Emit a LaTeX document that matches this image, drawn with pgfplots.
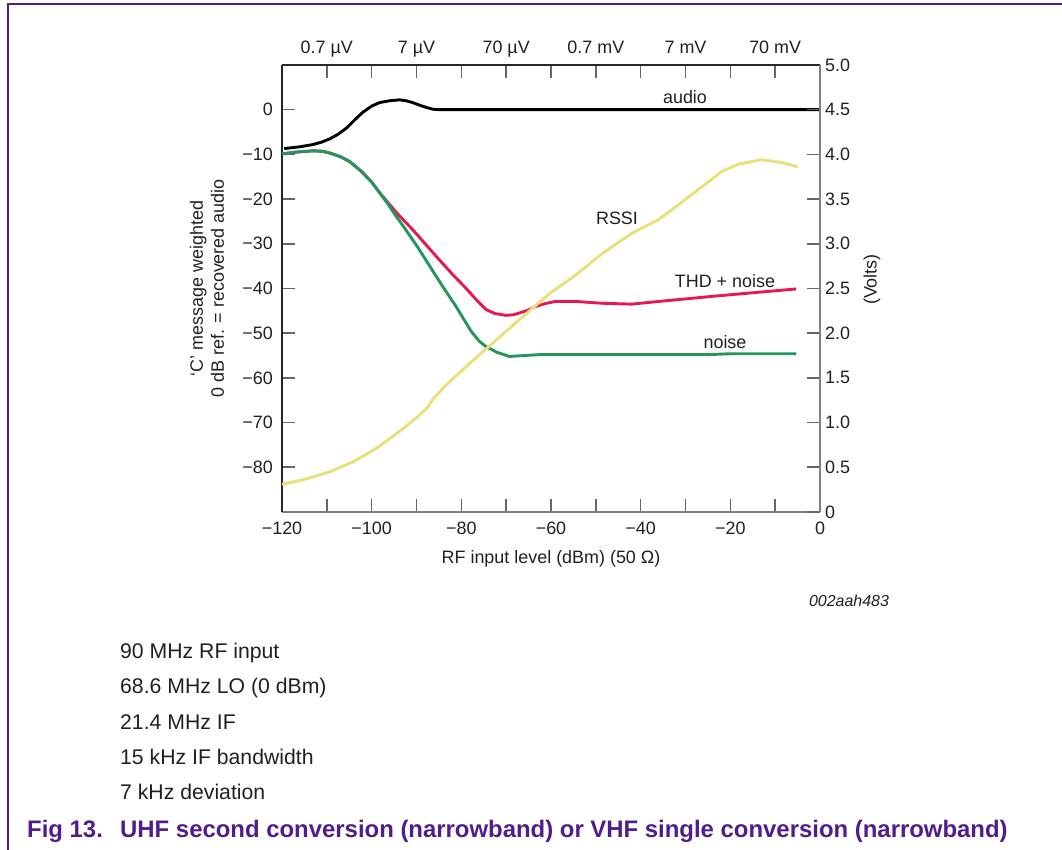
\documentclass[border=0pt]{standalone}
\usepackage{fontspec}
\setmainfont{Liberation Sans}
\usepackage{pgfplots}
\pgfplotsset{compat=1.18}
\definecolor{nxp}{RGB}{80,30,140}
\definecolor{cred}{RGB}{232,24,82}
\definecolor{cgreen}{RGB}{34,150,92}
\definecolor{cyellow}{RGB}{232,224,122}
\definecolor{txt}{RGB}{35,31,32}
\newcommand{\fs}{\fontsize{18}{21}\selectfont}
\pgfplotsset{
  base/.style={
    at={(282bp,338bp)}, anchor=south west,
    scale only axis, width=538bp, height=447bp,
    xmin=-120, xmax=0,
    x axis line style={-}, y axis line style={-},
    axis line style={line width=1.6bp},
    tick style={black!60, line width=1.6bp},
    major tick length=13bp, tick align=inside,
    ticklabel style={font=\fs, text=txt, inner sep=0pt},
    label style={font=\fs, text=txt},
    clip=false,
  }
}
\begin{document}
\begin{tikzpicture}[x=1bp,y=1bp]
\path[use as bounding box] (0,0) rectangle (1062,850);
\draw[nxp, line width=2bp] (8.3,0) -- (8.3,845.7) -- (1062,845.7);

\begin{axis}[base,
  ymin=-90, ymax=10,
  axis x line*=bottom, axis y line*=left,
  x axis line style={gray},
  y axis line style={black!85},
  xtick={-120,-110,...,0},
  xticklabels={−120,,−100,,−80,,−60,,−40,,−20,,0},
  xticklabel style={anchor=base, yshift=-22.5bp},
  ytick={-80,-70,...,0},
  yticklabels={−80,−70,−60,−50,−40,−30,−20,−10,0},
  yticklabel style={anchor=east, xshift=-9bp},
  xlabel={RF input level (dBm) (50 Ω)},
  ylabel={‘C’ message weighted\\0 dB ref. = recovered audio},
  ylabel style={align=center, at={(axis description cs:-0.1394,0.5)}, anchor=center},
  xlabel style={at={(axis description cs:0.5,0)}, yshift=-47bp, anchor=center},
]
\addplot[black, line width=2.9bp, line join=round] coordinates {
(-119.5,-8.7) (-116,-8.3) (-113.1,-7.8) (-111,-7.2) (-109.3,-6.5) (-107.5,-5.5)
(-105.6,-4.1) (-103.8,-2.3) (-102,-0.6) (-100,0.8) (-98.2,1.6) (-96,2.0)
(-93.8,2.2) (-92.3,2.0) (-90.9,1.6) (-89.3,1.0) (-87.8,0.5) (-86.3,0.1)
(-84.9,0) (-60,0) (-40,0) (-20,0) (0,0)
};
\addplot[cred, line width=2.9bp, line join=round] coordinates {
(-120,-9.9) (-117,-9.5) (-113.1,-9.2) (-111,-9.3) (-109.3,-9.7) (-107,-10.5)
(-104.9,-11.6) (-102.3,-13.8) (-100,-16.2) (-98.2,-18.6) (-96.7,-20.4)
(-94.5,-23.0) (-90.9,-26.8) (-87.8,-30.3) (-84.9,-33.6) (-82,-36.8) (-79,-39.9)
(-76.5,-42.7) (-74.5,-44.7) (-72.5,-45.6) (-70.1,-46.0) (-68.5,-45.9) (-67.1,-45.5)
(-65,-44.8) (-63.4,-44.0) (-61,-43.3) (-59,-42.9) (-54.5,-42.9) (-48.7,-43.3)
(-42,-43.5) (-36,-42.9) (-23.4,-41.7) (-5.3,-40.1)
};
\addplot[cgreen, line width=2.9bp, line join=round] coordinates {
(-120,-9.9) (-117,-9.5) (-113.1,-9.2) (-111,-9.3) (-109.3,-9.7) (-107,-10.5)
(-104.9,-11.6) (-102.3,-13.8) (-100,-16.2) (-98.2,-18.6) (-96.3,-21.2)
(-94.5,-23.9) (-92.3,-27.0) (-90.1,-30.2) (-87.8,-33.8) (-85.6,-37.3)
(-83.4,-40.7) (-81.2,-44.0) (-79.5,-46.8) (-77.8,-49.6) (-76,-51.8) (-74.5,-53.0)
(-72,-54.3) (-69.3,-55.2) (-66,-55.0) (-62.7,-54.8) (-53.8,-54.8) (-40,-54.8)
(-25,-54.8) (-20,-54.6) (-5.3,-54.6)
};
\end{axis}

\begin{axis}[base,
  ymin=0, ymax=5,
  axis x line*=top, axis y line*=right,
  x axis line style={black!85},
  y axis line style={gray},
  xtick={-110,-100,...,-10},
  xticklabels={0.7 µV,,7 µV,,70 µV,,0.7 mV,,7 mV,,70 mV},
  xticklabel style={anchor=base, yshift=11.5bp},
  ytick={0,0.5,...,5},
  yticklabels={0,0.5,1.0,1.5,2.0,2.5,3.0,3.5,4.0,4.5,5.0},
  yticklabel style={anchor=west, xshift=5bp},
  ylabel={(Volts)},
  ylabel style={at={(axis description cs:1.0967,0.52)}, anchor=center},
]
\addplot[cyellow, line width=2.9bp, line join=round] coordinates {
(-120,0.31) (-115.3,0.36) (-109.3,0.45) (-104.2,0.56) (-99,0.71) (-93.8,0.90)
(-90.1,1.05) (-87.5,1.17) (-86.4,1.26) (-83.4,1.42) (-78.2,1.66) (-72.3,1.92)
(-66.4,2.18) (-60.4,2.44) (-54.5,2.65) (-48.6,2.89) (-41.9,3.12) (-36,3.27)
(-28.6,3.55) (-21.9,3.81) (-18.2,3.89) (-13.1,3.94) (-8.6,3.91) (-4.9,3.86)
};
\end{axis}

\begin{scope}[every node/.style={font=\fs, text=txt, inner sep=0pt}]
\node at (685,753) {audio};
\node at (617,632) {RSSI};
\node at (725,569) {THD + noise};
\node at (725,508) {noise};
\end{scope}
\begin{scope}[every node/.style={font=\fontsize{21.3}{24}\selectfont, text=txt, inner sep=0pt}]
\node[anchor=west] at (120,196.6) {90 MHz RF input};
\node[anchor=west] at (120,161.6) {68.6 MHz LO (0 dBm)};
\node[anchor=west] at (120,127.6) {21.4 MHz IF};
\node[anchor=west] at (120,93.3) {15 kHz IF bandwidth};
\node[anchor=west] at (120,58.3) {7 kHz deviation};
\node[font=\itshape\fontsize{16}{18}\selectfont] at (849,249) {002aah483};
\end{scope}
\begin{scope}[every node/.style={font=\bfseries\fontsize{24}{28}\selectfont, text=nxp, inner sep=0pt}]
\node[anchor=west] at (27,18.3) {Fig 13.};
\node[anchor=west] at (120,18.3) {UHF second conversion (narrowband) or VHF single conversion (narrowband)};
\end{scope}
\end{tikzpicture}
\end{document}
